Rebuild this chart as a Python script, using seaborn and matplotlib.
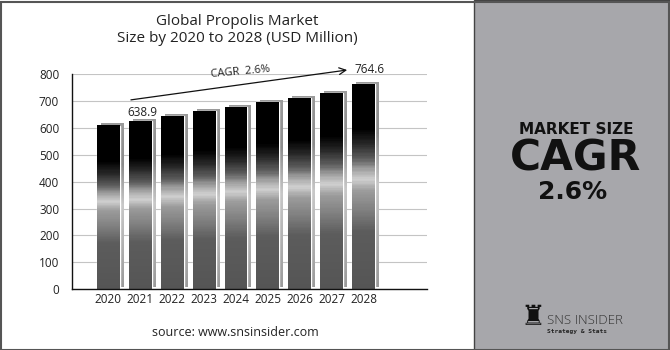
import numpy as np
import matplotlib
matplotlib.use("Agg")
import matplotlib.pyplot as plt
import matplotlib.transforms as mtransforms
from matplotlib.colors import LinearSegmentedColormap
from matplotlib.patches import Rectangle
from matplotlib.collections import PatchCollection
import seaborn as sns

years = ["2020", "2021", "2022", "2023", "2024", "2025", "2026", "2027", "2028"]
values = [609, 627, 644, 662, 678, 695, 713, 731, 764.6]
yticks = [0, 100, 200, 300, 400, 500, 600, 700, 800]
title = "Global Propolis Market\nSize by 2020 to 2028 (USD Million)"
first_label = "638.9"
last_label = "764.6"
cagr_label = "CAGR  2.6%"

sns.set_theme(style="white")
plt.rcParams["font.family"] = ["Open Sans", "DejaVu Sans"]

fig = plt.figure(figsize=(6.7, 3.5), dpi=100)
ax = fig.add_axes([0.107, 0.174, 0.53, 0.614])

sns.barplot(x=years, y=values, color="black", width=0.72, ax=ax, zorder=3)

grad = LinearSegmentedColormap.from_list("bar", [
    (0.0, "#555555"), (0.28, "#5c5c5c"), (0.38, "#7e7e7e"), (0.48, "#9c9c9c"),
    (0.535, "#d0d0d0"), (0.59, "#9a9a9a"), (0.63, "#626262"), (0.71, "#262626"),
    (0.78, "#000000"), (1.0, "#000000")])
shadow = LinearSegmentedColormap.from_list("sh", [
    (0.0, "#9a9a9a"), (0.5, "#c8c8c8"), (0.75, "#8c8c8c"), (1.0, "#9a9a9a")])

N = 160
fr = (np.arange(N) + 0.5) / N
off = mtransforms.ScaledTranslation(4 / 100, 2 / 100, fig.dpi_scale_trans)
for p in list(ax.patches):
    x0, w, h = p.get_x(), p.get_width(), p.get_height()
    dh = h / N
    sh_rects = [Rectangle((x0, i * dh), w, dh * 1.05) for i in range(N)]
    pc_sh = PatchCollection(sh_rects, facecolors=shadow(fr), edgecolors="none",
                            antialiased=False, zorder=2, transform=ax.transData + off)
    ax.add_collection(pc_sh)
    rects = [Rectangle((x0, i * dh), w, dh * 1.05) for i in range(N)]
    pc = PatchCollection(rects, facecolors=grad(fr), edgecolors="none",
                         antialiased=False, zorder=3.5)
    ax.add_collection(pc)

ax.set_xlim(-1.15, 9.98)
ax.set_ylim(0, 800)
ax.set_yticks(yticks)
ax.yaxis.grid(True, color="#c4c4c4", linewidth=0.8)
ax.set_axisbelow(True)
for s in ["top", "right"]:
    ax.spines[s].set_visible(False)
for s in ["left", "bottom"]:
    ax.spines[s].set_color("#111111")
    ax.spines[s].set_linewidth(1.0)
    ax.spines[s].set_zorder(5)
ax.tick_params(axis="both", length=0, labelsize=8.5, colors="#222222")
ax.tick_params(axis="y", pad=9)
ax.tick_params(axis="x", pad=3)
ax.set_xlabel("")
ax.set_ylabel("")

# annotations
ax.annotate("", xy=(7.57, 817), xytext=(0.62, 703),
            arrowprops=dict(arrowstyle="->", color="#111111", lw=0.9), annotation_clip=False)
ax.text(1.05, 656, first_label, fontsize=8.5, ha="center", va="center", color="#222222", clip_on=False)
ax.text(7.72, 817, last_label, fontsize=8.5, ha="left", va="center", color="#222222", clip_on=False)
ax.text(4.15, 807, cagr_label, fontsize=8, ha="center", va="center", rotation=5,
        color="#222222", clip_on=False)

fig.text(237 / 670, 1 - 30 / 350, title, ha="center", va="center", fontsize=11,
         color="#222222", linespacing=1.25)
fig.text(235 / 670, 1 - 332 / 350, "source: www.snsinsider.com", ha="center", va="center",
         fontsize=9, color="#222222")

# right panel
panel = Rectangle((474 / 670, 0), 1 - 474 / 670, 1, transform=fig.transFigure,
                  facecolor="#a7a7ab", edgecolor="#444444", linewidth=1.0, zorder=0)
fig.patches.append(panel)
border = Rectangle((0.5 / 670, 0.5 / 350), 1 - 1.5 / 670, 1 - 2 / 350, transform=fig.transFigure,
                   facecolor="none", edgecolor="#555555", linewidth=1.5, zorder=5)
fig.patches.append(border)

fig.text(576 / 670, 1 - 133.5 / 350, "MARKET SIZE", ha="center", va="baseline", fontsize=11,
         fontweight="bold", color="#111111", family=["DejaVu Sans"])
fig.text(576 / 670, 1 - 170 / 350, "CAGR", ha="center", va="baseline", fontsize=30.5,
         fontweight="bold", color="#111111", family=["DejaVu Sans"])
fig.text(573 / 670, 1 - 199 / 350, "2.6%", ha="center", va="baseline", fontsize=18,
         fontweight="bold", color="#111111", family=["DejaVu Sans"])

fig.text(533 / 670, 1 - 317 / 350, "\u265c", ha="center", va="center", fontsize=20,
         color="#111111", family=["DejaVu Sans"])
fig.text(547 / 670, 1 - 320 / 350, "SNS INSIDER", ha="left", va="center", fontsize=9.5,
         color="#333333", fontweight="light")
fig.text(547 / 670, 1 - 331 / 350, "Strategy & Stats", ha="left", va="center", fontsize=4.5,
         color="#222222", family=["DejaVu Sans Mono"], fontweight="bold")

fig.savefig("out.png", dpi=100)
